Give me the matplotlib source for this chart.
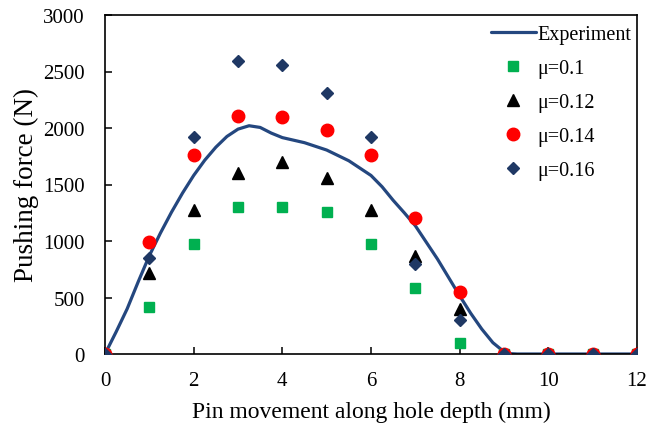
import matplotlib
matplotlib.use("Agg")
import matplotlib.pyplot as plt

plt.rcParams['font.family'] = ['Liberation Serif', 'DejaVu Serif']

# Simulation points
x_sim = [0, 1, 2, 3, 4, 5, 6, 7, 8, 9, 10, 11, 12]
mu_010 = [0, 420, 975, 1298, 1298, 1255, 975, 585, 95, 0, 0, 0, 0]
mu_012 = [0, 715, 1275, 1600, 1695, 1555, 1275, 870, 400, 0, 0, 0, 0]
mu_014 = [0, 990, 1765, 2103, 2095, 1985, 1765, 1205, 546, 0, 0, 0, 0]
mu_016 = [0, 850, 1920, 2595, 2555, 2307, 1920, 800, 298, 0, 0, 0, 0]

# Experiment curve
x_exp = [0, 0.25, 0.5, 0.75, 1, 1.25, 1.5, 1.75, 2, 2.25, 2.5, 2.75, 3, 3.25, 3.5,
         3.75, 4, 4.5, 5, 5.5, 6, 6.25, 6.5, 6.75, 7, 7.5, 8, 8.25, 8.5, 8.75,
         9, 9.15, 9.3, 10, 11, 12]
y_exp = [0, 195, 400, 640, 870, 1070, 1255, 1425, 1580, 1715, 1830, 1925, 1990, 2020, 2005,
         1955, 1915, 1870, 1805, 1710, 1580, 1480, 1360, 1250, 1135, 840, 515, 360, 220, 100,
         20, 3, 0, 0, 0, 0]

xticks = [0, 2, 4, 6, 8, 10, 12]
yticks = [0, 500, 1000, 1500, 2000, 2500, 3000]

fig = plt.figure(figsize=(6.58, 4.27), dpi=100)
ax = fig.add_axes([105/658, 1-355/427, (637-105)/658, (355-16)/427])

ax.plot(x_exp, y_exp, color='#24477F', lw=2.3, label='Experiment', zorder=2,
        solid_capstyle='round')
ax.plot(x_sim, mu_010, ls='none', marker='s', ms=7.8, color='#00B050', label='μ=0.1', zorder=3)
ax.plot(x_sim, mu_012, ls='none', marker='^', ms=9, color='#000000', label='μ=0.12', zorder=3)
ax.plot(x_sim, mu_014, ls='none', marker='o', ms=9, color='#FF0000', label='μ=0.14', zorder=3)
ax.plot(x_sim, mu_016, ls='none', marker='D', ms=6.5, color='#1F3864', label='μ=0.16', zorder=3)

ax.set_xlim(0, 12)
ax.set_ylim(0, 3000)
ax.set_xticks(xticks)
ax.set_yticks(yticks)
ax.tick_params(direction='in', length=5, width=1.1, labelsize=15,
               top=False, right=False)
ax.tick_params(axis='x', pad=12)
ax.tick_params(axis='y', pad=14.5)
for s in ax.spines.values():
    s.set_linewidth(1.2)

ax.set_xlabel('Pin movement along hole depth (mm)', fontsize=17, labelpad=8)
ax.set_ylabel('Pushing force (N)', fontsize=19.5, labelpad=3)

leg = ax.legend(loc='upper right', bbox_to_anchor=(1.0, 0.988), frameon=False,
                fontsize=14.5, handlelength=2.25, handletextpad=0.05,
                labelspacing=0.74, borderaxespad=0.0, borderpad=0.3)

fig.savefig('out.png', dpi=100)
